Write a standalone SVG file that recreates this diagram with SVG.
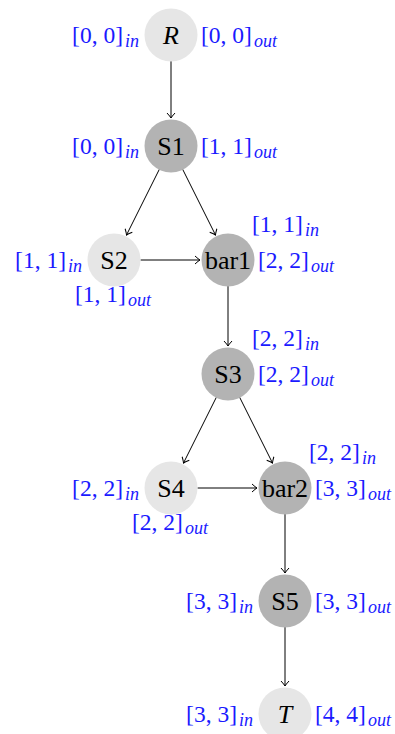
<svg xmlns="http://www.w3.org/2000/svg" width="395" height="734" viewBox="0 0 395 734">
  <style>
    .light { fill: #e6e6e6; }
    .dark { fill: #b3b3b3; }
    .name { font-family: "Liberation Serif", "DejaVu Serif", serif; font-size: 26px; fill: #000; text-anchor: middle; }
    .it { font-style: italic; }
    .lbl { font-family: "Liberation Serif", "DejaVu Serif", serif; font-size: 23.5px; fill: #1a1aff; }
    .sub { font-size: 18px; font-style: italic; }
    .end { text-anchor: end; }
    .edge { stroke: #000; stroke-width: 1; fill: none; marker-end: url(#to); }
  </style>
  <defs>
    <marker id="to" viewBox="-7 -5 9 10" markerWidth="9" markerHeight="10" refX="0" refY="0" orient="auto" markerUnits="userSpaceOnUse">
      <path d="M -5,-4 Q -1.5,-0.8 0,0 Q -1.5,0.8 -5,4" fill="none" stroke="#000" stroke-width="1"/>
    </marker>
  </defs>

  <!-- connectors -->
  <g id="edges">
    <line class="edge" x1="171" y1="61" x2="171" y2="118"/>
    <line class="edge" x1="159.4" y1="169.2" x2="126.5" y2="235"/>
    <line class="edge" x1="182.6" y1="169.2" x2="215.5" y2="235"/>
    <line class="edge" x1="140.5" y1="260" x2="200" y2="260"/>
    <line class="edge" x1="228" y1="286" x2="228" y2="346"/>
    <line class="edge" x1="216.4" y1="397.2" x2="183.5" y2="463"/>
    <line class="edge" x1="239.6" y1="397.2" x2="272.5" y2="463"/>
    <line class="edge" x1="197.5" y1="488" x2="257" y2="488"/>
    <line class="edge" x1="285" y1="514" x2="285" y2="573"/>
    <line class="edge" x1="285" y1="627" x2="285" y2="686"/>
  </g>

  <g id="R">
    <circle class="light" cx="171" cy="35" r="26.5"/>
    <text class="name it" x="171" y="44">R</text>
    <text class="lbl end" x="139" y="43">[0, 0]<tspan class="sub" dx="2" dy="4">in</tspan></text>
    <text class="lbl" x="201" y="43">[0, 0]<tspan class="sub" dx="2" dy="4">out</tspan></text>
  </g>

  <g id="S1">
    <circle class="dark" cx="171" cy="146" r="26.5"/>
    <text class="name" x="171" y="155">S1</text>
    <text class="lbl end" x="139" y="154">[0, 0]<tspan class="sub" dx="2" dy="4">in</tspan></text>
    <text class="lbl" x="201" y="154">[1, 1]<tspan class="sub" dx="2" dy="4">out</tspan></text>
  </g>

  <g id="S2">
    <circle class="light" cx="114" cy="260" r="26.5"/>
    <text class="name" x="114" y="269">S2</text>
    <text class="lbl end" x="82" y="268">[1, 1]<tspan class="sub" dx="2" dy="4">in</tspan></text>
    <text class="lbl" x="75" y="302">[1, 1]<tspan class="sub" dx="2" dy="4">out</tspan></text>
  </g>

  <g id="bar1">
    <circle class="dark" cx="228" cy="260" r="26.5"/>
    <text class="name" x="228" y="269">bar1</text>
    <text class="lbl" x="252" y="232">[1, 1]<tspan class="sub" dx="2" dy="4">in</tspan></text>
    <text class="lbl" x="258" y="268">[2, 2]<tspan class="sub" dx="2" dy="4">out</tspan></text>
  </g>

  <g id="S3">
    <circle class="dark" cx="228" cy="374" r="26.5"/>
    <text class="name" x="228" y="383">S3</text>
    <text class="lbl" x="252" y="346">[2, 2]<tspan class="sub" dx="2" dy="4">in</tspan></text>
    <text class="lbl" x="258" y="382">[2, 2]<tspan class="sub" dx="2" dy="4">out</tspan></text>
  </g>

  <g id="S4">
    <circle class="light" cx="171" cy="488" r="26.5"/>
    <text class="name" x="171" y="497">S4</text>
    <text class="lbl end" x="139" y="496">[2, 2]<tspan class="sub" dx="2" dy="4">in</tspan></text>
    <text class="lbl" x="132" y="530">[2, 2]<tspan class="sub" dx="2" dy="4">out</tspan></text>
  </g>

  <g id="bar2">
    <circle class="dark" cx="285" cy="488" r="26.5"/>
    <text class="name" x="285" y="497">bar2</text>
    <text class="lbl" x="309" y="460">[2, 2]<tspan class="sub" dx="2" dy="4">in</tspan></text>
    <text class="lbl" x="315" y="496">[3, 3]<tspan class="sub" dx="2" dy="4">out</tspan></text>
  </g>

  <g id="S5">
    <circle class="dark" cx="285" cy="601" r="26.5"/>
    <text class="name" x="285" y="610">S5</text>
    <text class="lbl end" x="253" y="609">[3, 3]<tspan class="sub" dx="2" dy="4">in</tspan></text>
    <text class="lbl" x="315" y="609">[3, 3]<tspan class="sub" dx="2" dy="4">out</tspan></text>
  </g>

  <g id="T">
    <circle class="light" cx="285" cy="714" r="26.5"/>
    <text class="name it" x="285" y="723">T</text>
    <text class="lbl end" x="253" y="722">[3, 3]<tspan class="sub" dx="2" dy="4">in</tspan></text>
    <text class="lbl" x="315" y="722">[4, 4]<tspan class="sub" dx="2" dy="4">out</tspan></text>
  </g>
</svg>
